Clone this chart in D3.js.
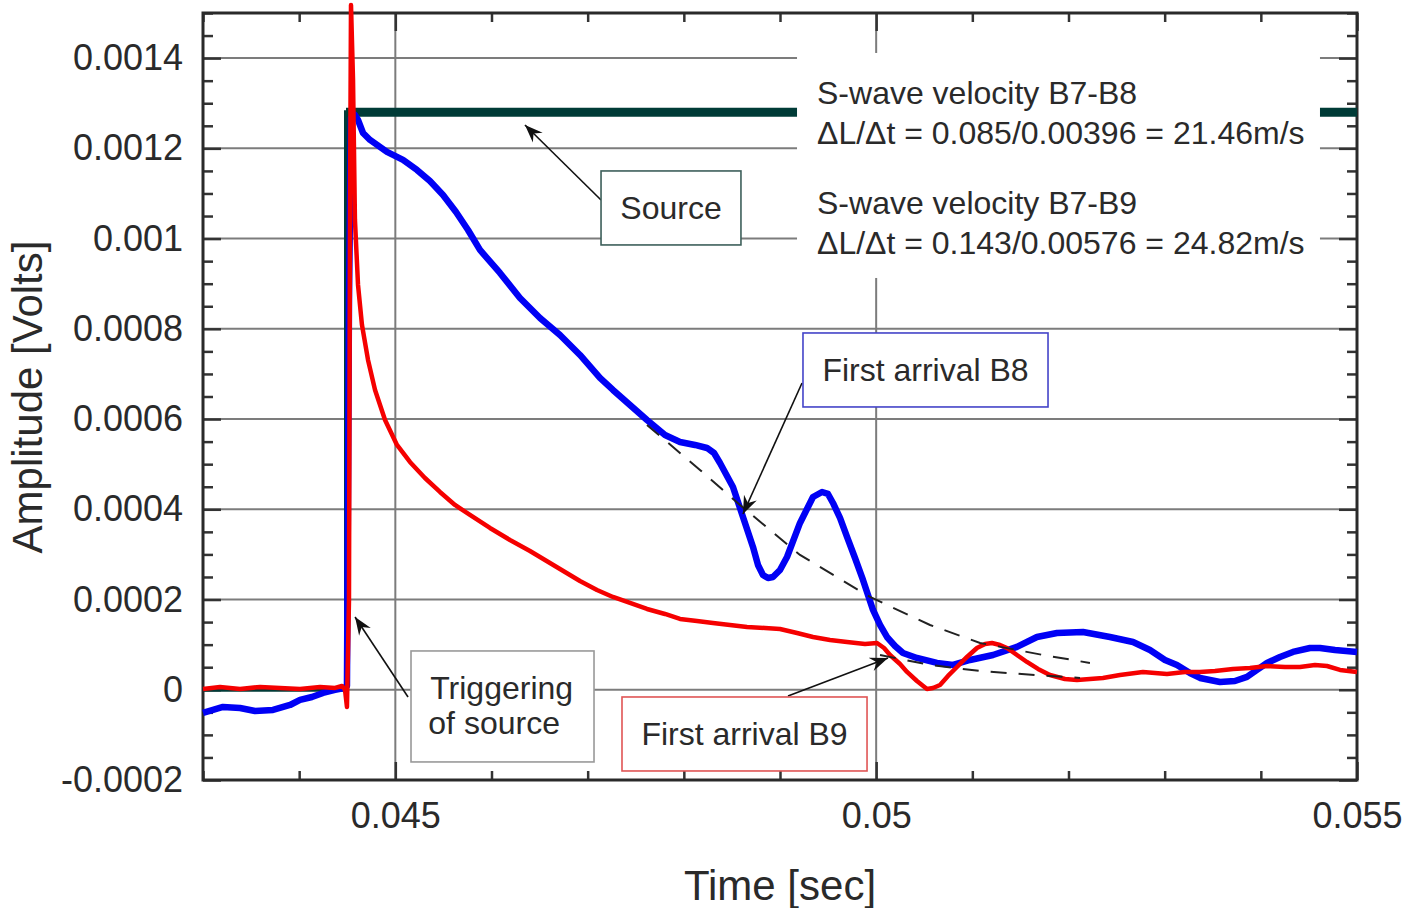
<!DOCTYPE html>
<html>
<head>
<meta charset="utf-8">
<script src="https://cdn.jsdelivr.net/npm/d3@7"></script>
<style>
  html, body { margin: 0; padding: 0; background: #fff; }
  svg { display: block; }
  text { font-family: "Liberation Sans", Arial, Helvetica, sans-serif; fill: #2a2a2a; }
</style>
</head>
<body>
<svg id="chart" width="1402" height="908"></svg>
<script>
// ---------------- DATA ----------------
// B8 receiver (blue)
const timeB8 = [0.043000,0.043208,0.043385,0.043541,0.043728,0.043905,0.044009,0.044133,0.044248,0.044373,0.044467,0.044497,
  0.044518,0.044539,0.044580,0.044612,0.044664,0.044737,0.044913,0.045080,0.045225,0.045360,0.045496,0.045631,0.045756,
  0.045880,0.046088,0.046296,
  0.046504,0.046712,0.046920,0.047128,0.047263,0.047440,0.047617,0.047804,0.047960,0.048116,0.048241,0.048314,0.048376,
  0.048511,0.048615,0.048719,0.048771,0.048823,0.048875,0.048927,0.049000,0.049073,0.049208,0.049343,0.049437,0.049499,
  0.049551,0.049624,0.049697,0.049780,0.049863,0.049967,0.050040,0.050112,0.050196,0.050279,0.050424,0.050632,0.050799,
  0.050976,0.051215,0.051464,0.051672,0.051880,0.052151,0.052431,0.052671,0.052847,0.053003,0.053128,0.053263,0.053367,
  0.053575,0.053731,0.053856,0.053960,0.054064,0.054199,0.054334,0.054511,0.054615,0.054771,0.055000];
const ampB8 = [-0.0000514,-0.0000381,-0.0000403,-0.0000470,-0.0000448,-0.0000337,-0.0000226,-0.0000160,-0.0000071,-0.0000004,0.0000040,0.0000084,
  0.0008637,0.0012674,0.0012740,0.0012629,0.0012341,0.0012186,0.0011920,0.0011743,0.0011521,0.0011277,0.0010967,0.0010590,0.0010191,
  0.0009748,0.0009238,0.0008684,
  0.0008241,0.0007864,0.0007421,0.0006911,0.0006645,0.0006312,0.0005980,0.0005647,0.0005492,0.0005426,0.0005359,0.0005248,0.0005027,
  0.0004495,0.0003830,0.0003165,0.0002766,0.0002544,0.0002478,0.0002500,0.0002655,0.0002943,0.0003697,0.0004273,0.0004384,0.0004340,
  0.0004140,0.0003808,0.0003387,0.0002921,0.0002434,0.0001769,0.0001436,0.0001170,0.0000971,0.0000816,0.0000705,0.0000594,0.0000550,
  0.0000660,0.0000771,0.0000949,0.0001170,0.0001259,0.0001281,0.0001170,0.0001059,0.0000882,0.0000660,0.0000550,0.0000372,0.0000262,
  0.0000173,0.0000195,0.0000284,0.0000439,0.0000594,0.0000727,0.0000838,0.0000926,0.0000926,0.0000882,0.0000838];

// B9 receiver (red)
const timeB9 = [0.043000,0.043177,0.043385,0.043593,0.043801,0.044009,0.044217,0.044373,0.044445,0.044477,0.044497,0.044518,
  0.044529,0.044539,0.044560,0.044580,0.044612,0.044653,0.044716,0.044789,0.044893,0.045017,0.045152,0.045308,0.045464,
  0.045620,0.045776,0.045984,0.046192,0.046400,0.046608,0.046764,0.046920,0.047097,0.047263,0.047440,0.047617,0.047804,
  0.047960,0.048137,0.048303,0.048480,0.048657,0.048844,0.049000,0.049177,0.049343,0.049520,0.049697,0.049884,0.050009,
  0.050082,0.050144,0.050248,0.050321,0.050424,0.050528,0.050591,0.050664,0.050747,0.050840,0.050944,0.051048,0.051132,
  0.051204,0.051288,0.051360,0.051464,0.051568,0.051683,0.051807,0.051963,0.052088,0.052223,0.052358,0.052535,0.052774,
  0.053024,0.053211,0.053367,0.053523,0.053710,0.053887,0.054064,0.054251,0.054407,0.054563,0.054688,0.054823,0.055000];
const ampB9 = [0.0000018,0.0000062,0.0000018,0.0000062,0.0000040,0.0000018,0.0000062,0.0000040,0.0000084,-0.0000004,-0.0000381,0.0001990,
  0.0010856,0.0015178,0.0013516,0.0010413,0.0008972,0.0008086,0.0007310,0.0006645,0.0005980,0.0005426,0.0005049,0.0004694,0.0004384,
  0.0004096,0.0003874,0.0003586,0.0003320,0.0003076,0.0002810,0.0002611,0.0002411,0.0002212,0.0002057,0.0001924,0.0001791,0.0001680,
  0.0001569,0.0001525,0.0001481,0.0001436,0.0001392,0.0001370,0.0001348,0.0001259,0.0001170,0.0001104,0.0001059,0.0001015,0.0001037,
  0.0000926,0.0000771,0.0000572,0.0000395,0.0000195,0.0000018,0.0000040,0.0000106,0.0000306,0.0000505,0.0000727,0.0000926,0.0001015,
  0.0001037,0.0000993,0.0000926,0.0000771,0.0000616,0.0000461,0.0000328,0.0000239,0.0000217,0.0000239,0.0000262,0.0000328,0.0000395,
  0.0000350,0.0000395,0.0000395,0.0000417,0.0000461,0.0000483,0.0000527,0.0000505,0.0000505,0.0000550,0.0000527,0.0000439,0.0000395];

// Source (step)
const timeSource = [0.043, 0.044487, 0.044487, 0.055];
const ampSource  = [0, 0, 0.00128, 0.00128];

// Dashed trend lines
const timeFit1 = [0.047617,0.048168,0.048584,0.049208,0.049936,0.050560,0.051080,0.051735,0.052223];
const ampFit1  = [0.0005869,0.0004872,0.0004096,0.0002988,0.0002057,0.0001436,0.0001037,0.0000771,0.0000594];
const timeFit2 = [0.050040,0.050560,0.051080,0.051651,0.052120];
const ampFit2  = [0.0000771,0.0000550,0.0000417,0.0000328,0.0000262];

// Ticks
const yTickValues = [-0.0002,0,0.0002,0.0004,0.0006,0.0008,0.001,0.0012,0.0014];
const yTickLabels = ["-0.0002","0","0.0002","0.0004","0.0006","0.0008","0.001","0.0012","0.0014"];
const xTickValues = [0.045,0.05,0.055];
const xTickLabels = ["0.045","0.05","0.055"];
const xMinorStep = 0.001;
const yMinorStep = 0.00005;

const xTitle = "Time [sec]";
const yTitle = "Amplitude [Volts]";

const velocityLines = ["S-wave velocity B7-B8","ΔL/Δt = 0.085/0.00396 = 21.46m/s",
                       "S-wave velocity B7-B9","ΔL/Δt = 0.143/0.00576 = 24.82m/s"];

// ---------------- CHART ----------------
const svg = d3.select("#chart");
const L = 203, R = 1357, T = 13, B = 780;
const x = d3.scaleLinear().domain([0.043, 0.055]).range([L, R]);
const y = d3.scaleLinear().domain([-0.0002, 0.0015]).range([B, T]);

const zip = (ts, vs) => ts.map((t, i) => [t, vs[i]]);
const line = d3.line().x(d => x(d[0])).y(d => y(d[1]));

// gridlines
const gridColor = "#7c7c7c";
svg.append("g").selectAll("line").data(yTickValues.filter(v => v > -0.0002)).join("line")
  .attr("x1", L).attr("x2", R).attr("y1", d => y(d)).attr("y2", d => y(d))
  .attr("stroke", gridColor).attr("stroke-width", 2);
svg.append("g").selectAll("line").data([0.045, 0.05]).join("line")
  .attr("x1", d => x(d)).attr("x2", d => x(d)).attr("y1", T).attr("y2", B)
  .attr("stroke", gridColor).attr("stroke-width", 2);

// axes (ticks inward)
const tickColor = "#333";
const minorX = d3.range(0.043, 0.05501, xMinorStep).map(v => +v.toFixed(4)).filter(v => !xTickValues.includes(v));
const minorY = d3.range(-0.0002, 0.00150001, yMinorStep).map(v => +v.toFixed(5)).filter(v => !yTickValues.some(t => Math.abs(t - v) < 1e-9));

function styleAxis(g) {
  g.select(".domain").remove();
  g.selectAll(".tick line").attr("stroke", tickColor).attr("stroke-width", 2.5);
  g.selectAll(".tick text").style("font-size", "36px").attr("fill", "#2a2a2a")
    .style("font-family", "'Liberation Sans', Arial, sans-serif");
}
// left
svg.append("g").attr("transform", `translate(${L},0)`)
  .call(d3.axisLeft(y).tickValues(yTickValues).tickSize(-18).tickPadding(20)
    .tickFormat((d, i) => yTickLabels[i])).call(styleAxis);
svg.append("g").attr("transform", `translate(${L},0)`)
  .call(d3.axisLeft(y).tickValues(minorY).tickSize(-10).tickFormat("")).call(styleAxis);
// right
svg.append("g").attr("transform", `translate(${R},0)`)
  .call(d3.axisRight(y).tickValues(yTickValues).tickSize(-18).tickFormat("")).call(styleAxis);
svg.append("g").attr("transform", `translate(${R},0)`)
  .call(d3.axisRight(y).tickValues(minorY).tickSize(-10).tickFormat("")).call(styleAxis);
// bottom
svg.append("g").attr("transform", `translate(0,${B})`)
  .call(d3.axisBottom(x).tickValues(xTickValues).tickSize(-18).tickPadding(22)
    .tickFormat((d, i) => xTickLabels[i])).call(styleAxis);
svg.append("g").attr("transform", `translate(0,${B})`)
  .call(d3.axisBottom(x).tickValues(minorX).tickSize(-9).tickFormat("")).call(styleAxis);
// top
svg.append("g").attr("transform", `translate(0,${T})`)
  .call(d3.axisTop(x).tickValues(xTickValues).tickSize(-18).tickFormat("")).call(styleAxis);
svg.append("g").attr("transform", `translate(0,${T})`)
  .call(d3.axisTop(x).tickValues(minorX).tickSize(-9).tickFormat("")).call(styleAxis);

// frame
svg.append("rect").attr("x", L).attr("y", T).attr("width", R - L).attr("height", B - T)
  .attr("fill", "none").attr("stroke", "#2a2a2a").attr("stroke-width", 3);

// source line
const srcColor = "#003b37";
const src = zip(timeSource, ampSource);
svg.append("path").datum(src).attr("d", line).attr("fill", "none")
  .attr("stroke", srcColor).attr("stroke-width", 4);
svg.append("path").datum(src.slice(2)).attr("d", line).attr("fill", "none")
  .attr("stroke", srcColor).attr("stroke-width", 9);

// white panel behind velocity text
svg.append("rect").attr("x", x(0.049177)).attr("y", y(0.0014114))
  .attr("width", x(0.054615) - x(0.049177)).attr("height", y(0.0009127) - y(0.0014114))
  .attr("fill", "#fff");

// series
svg.append("path").datum(zip(timeB8, ampB8)).attr("d", line).attr("fill", "none")
  .attr("stroke", "#0000f5").attr("stroke-width", 6.5).attr("stroke-linejoin", "round");
svg.append("path").datum(zip(timeB9, ampB9)).attr("d", line).attr("fill", "none")
  .attr("stroke", "#f50000").attr("stroke-width", 4.5).attr("stroke-linejoin", "round");

// dashed fits
[zip(timeFit1, ampFit1), zip(timeFit2, ampFit2)].forEach(d => {
  svg.append("path").datum(d).attr("d", line).attr("fill", "none")
    .attr("stroke", "#222").attr("stroke-width", 2).attr("stroke-dasharray", "16,12");
});

// arrow marker
svg.append("defs").append("marker").attr("id", "arr")
  .attr("viewBox", "-18 -8 20 16").attr("refX", 0).attr("refY", 0)
  .attr("markerWidth", 20).attr("markerHeight", 16).attr("markerUnits", "userSpaceOnUse")
  .attr("orient", "auto")
  .append("path").attr("d", "M0,0 L-18,-7 L-12,0 L-18,7 Z").attr("fill", "#111");

function arrow(t0, v0, t1, v1) {
  svg.append("line").attr("x1", x(t0)).attr("y1", y(v0)).attr("x2", x(t1)).attr("y2", y(v1))
    .attr("stroke", "#111").attr("stroke-width", 1.6).attr("marker-end", "url(#arr)");
}
function box(t0, v0, t1, v1, color) {
  svg.append("rect").attr("x", x(t0)).attr("y", y(v0))
    .attr("width", x(t1) - x(t0)).attr("height", y(v1) - y(v0))
    .attr("fill", "#fff").attr("stroke", color).attr("stroke-width", 1.6);
}
function label(t, v, txt, anchor) {
  svg.append("text").attr("x", x(t)).attr("y", y(v)).attr("text-anchor", anchor || "middle")
    .attr("dominant-baseline", "central").style("font-size", "32px").text(txt);
}

// Source annotation
arrow(0.047139, 0.0010856, 0.046348, 0.0012518);
box(0.047139, 0.0011499, 0.048594, 0.0009859, "#3d5f5a");
label(0.0478665, 0.0010679, "Source");

// Triggering annotation
arrow(0.045132, -0.0000160, 0.044581, 0.0001614);
box(0.045163, 0.0000860, 0.047066, -0.0001600, "#999");
label(0.045163 + 0.00020, 0.0000044, "Triggering", "start");
label(0.045163 + 0.00018, -0.0000732, "of source", "start");

// B8 annotation
arrow(0.049229, 0.0006800, 0.048615, 0.0003896);
box(0.049239, 0.0007908, 0.051787, 0.0006268, "#4444c8");
label(0.050513, 0.0007088, "First arrival B8");

// B9 annotation
arrow(0.049083, -0.0000140, 0.050123, 0.0000705);
box(0.047357, -0.0000160, 0.049905, -0.0001800, "#e05555");
label(0.048631, -0.0000980, "First arrival B9");

// velocity text
const vx = 0.049385;
const vy = [0.0013231, 0.0012344, 0.0010793, 0.0009906];
velocityLines.forEach((s, i) => label(vx, vy[i], s, "start"));

// axis titles
svg.append("text").attr("x", 780).attr("y", 885).attr("text-anchor", "middle")
  .attr("dominant-baseline", "central").style("font-size", "42px").text(xTitle);
svg.append("text").attr("transform", "translate(27,397) rotate(-90)").attr("text-anchor", "middle")
  .attr("dominant-baseline", "central").style("font-size", "42px").text(yTitle);
</script>
</body>
</html>
